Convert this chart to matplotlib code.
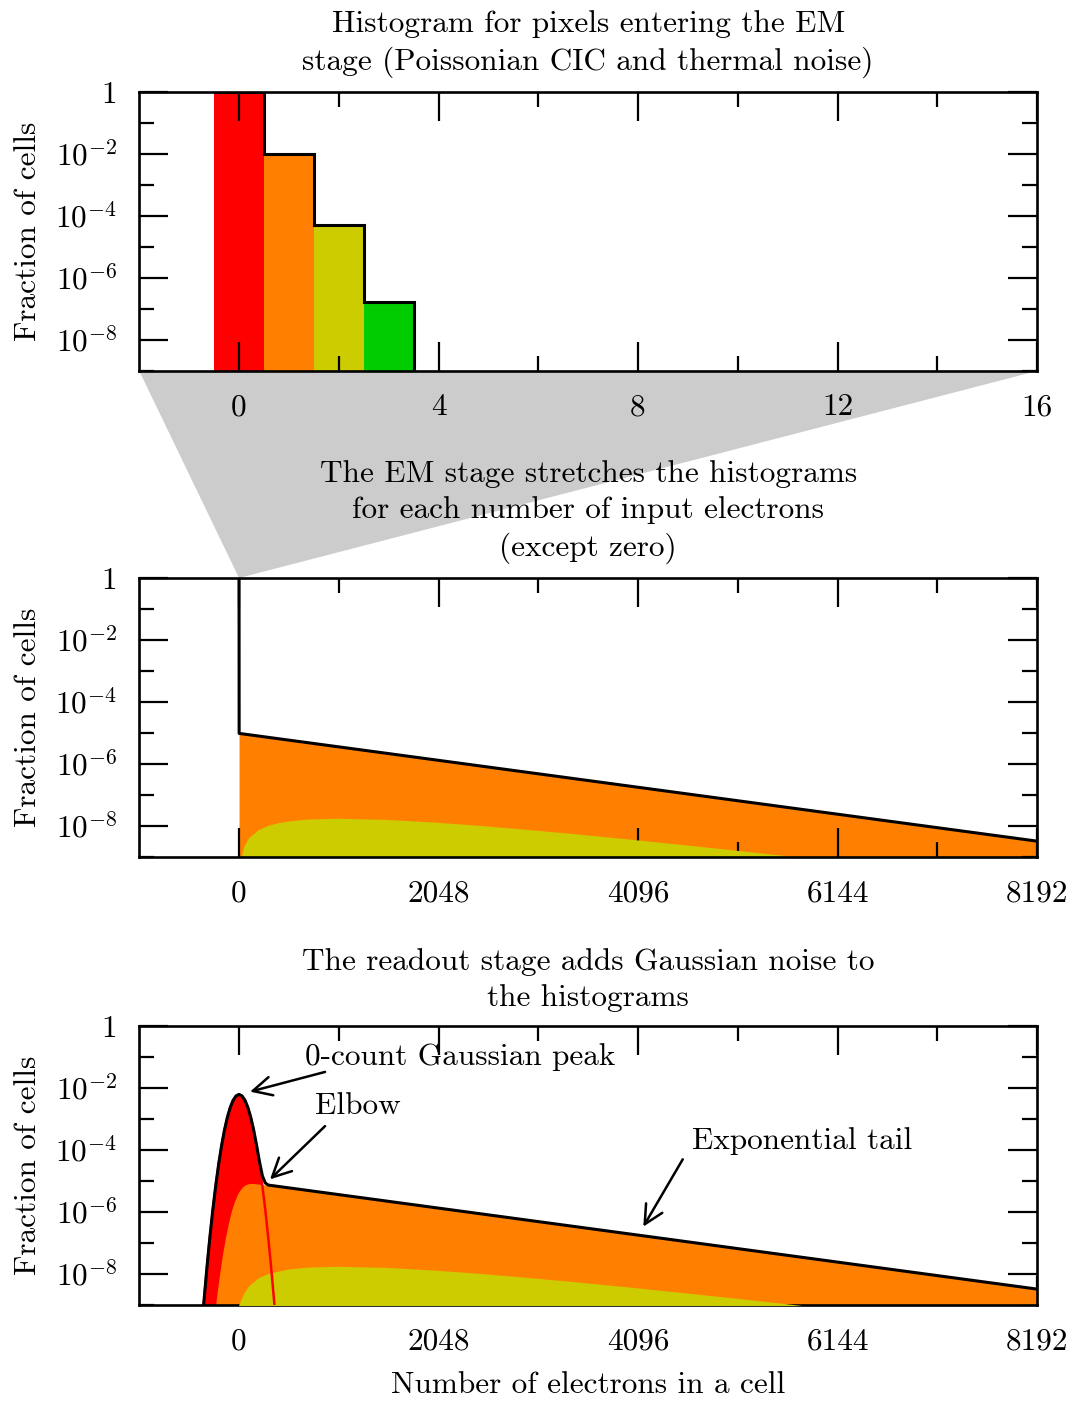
import matplotlib
matplotlib.use('Agg')
import matplotlib.pyplot as plt
from matplotlib.patches import Polygon
from matplotlib.ticker import NullFormatter

plt.rcParams['font.family'] = ['cmr10']
plt.rcParams['mathtext.fontset'] = 'cm'
plt.rcParams['font.size'] = 22.5
plt.rcParams['axes.linewidth'] = 1.9

RED = '#ff0000'
ORANGE = '#ff8000'
YELLOW = '#cccc00'
GREEN = '#00cc00'
GREY = '#cccccc'

# panel 1: electrons entering the EM stage
counts = [0, 1, 2, 3]
count_frac = [0.99, 9.9e-3, 4.95e-5, 1.65e-7]
count_colors = [RED, ORANGE, YELLOW, GREEN]
step_edges = [-0.5, 0.5, 1.5, 2.5, 3.5, 4.5]
step_vals = [0.99, 9.9e-3, 4.95e-5, 1.65e-7, 1e-14]

# panel 2: after the EM stage
em_total_x = [0, 1, 8192]
em_total_y = [0.99, 9.7e-6, 3.25e-9]
em_one_x = [0, 8192]
em_one_y = [9.7e-6, 3.25e-9]
em_two_x = [0, 10, 20, 50, 100, 200, 300, 400, 500, 700, 1000, 1500, 2000,
            2500, 3000, 3500, 4000, 4500, 5000, 5500, 6000, 6500]
em_two_y = [1e-12, 4.67e-10, 9.26e-10, 2.25e-9, 4.28e-9, 7.77e-9, 1.056e-8,
            1.277e-8, 1.448e-8, 1.668e-8, 1.778e-8, 1.636e-8, 1.339e-8,
            1.027e-8, 7.56e-9, 5.42e-9, 3.80e-9, 2.62e-9, 1.79e-9, 1.21e-9,
            8.08e-10, 5.37e-10]

# panel 3: after readout noise
zero_x = [-390, -360, -330, -300, -270, -240, -210, -180, -150, -120, -90, -60,
          -30, 0, 30, 60, 90, 120, 150, 180, 210, 240, 270, 300, 330, 360, 390]
zero_y = [9.4e-11, 1.35e-9, 1.56e-8, 1.47e-7, 1.11e-6, 6.79e-6, 3.36e-5,
          1.341e-4, 4.32e-4, 1.128e-3, 2.38e-3, 4.05e-3, 5.57e-3, 6.2e-3,
          5.57e-3, 4.05e-3, 2.38e-3, 1.128e-3, 4.32e-4, 1.341e-4, 3.36e-5,
          6.79e-6, 1.11e-6, 1.47e-7, 1.56e-8, 1.35e-9, 9.4e-11]
one_x = [-250, -230, -200, -170, -140, -110, -80, -50, -20, 0, 30, 60, 90,
         120, 150, 200, 300, 8192]
one_y = [5.7e-10, 1.93e-9, 9.9e-9, 4.22e-8, 1.48e-7, 4.28e-7, 1.03e-6,
         2.07e-6, 3.52e-6, 4.61e-6, 6.18e-6, 7.38e-6, 8.07e-6, 8.32e-6,
         8.30e-6, 7.98e-6, 7.24e-6, 3.25e-9]
two_x = [-20, 0, 50, 100, 200, 300, 500, 700, 1000, 1500, 2000, 2500, 3000,
         3500, 4000, 4500, 5000, 5500, 6000, 6500]
two_y = [7.06e-10, 1.08e-9, 2.44e-9, 4.19e-9, 7.62e-9, 1.045e-8, 1.44e-8,
         1.662e-8, 1.774e-8, 1.635e-8, 1.338e-8, 1.027e-8, 7.56e-9, 5.42e-9,
         3.80e-9, 2.62e-9, 1.79e-9, 1.21e-9, 8.08e-10, 5.37e-10]
total_x = [-390, -360, -330, -300, -270, -240, -210, -180, -150, -120, -90,
           -60, -30, 0, 30, 60, 90, 120, 150, 180, 210, 240, 270, 300, 8192]
total_y = [9.4e-11, 1.35e-9, 1.56e-8, 1.47e-7, 1.11e-6, 6.79e-6, 3.36e-5,
           1.341e-4, 4.32e-4, 1.128e-3, 2.38e-3, 4.05e-3, 5.57e-3, 6.2e-3,
           5.576e-3, 4.057e-3, 2.388e-3, 1.136e-3, 4.40e-4, 1.42e-4, 4.15e-5,
           1.45e-5, 8.6e-6, 7.39e-6, 3.26e-9]

ymajor = [1, 1e-2, 1e-4, 1e-6, 1e-8]
ylabels = ['1', '$10^{-2}$', '$10^{-4}$', '$10^{-6}$', '$10^{-8}$']
yminor = [1e-1, 1e-3, 1e-5, 1e-7, 1e-9]

small_xlim = (-2, 16)
small_major = [0, 4, 8, 12, 16]
small_minor = [2, 6, 10, 14]
big_xlim = (-1024, 8192)
big_major = [0, 2048, 4096, 6144, 8192]
big_minor = [1024, 3072, 5120, 7168]

fig = plt.figure(figsize=(10.73, 14.02), dpi=100)
left, width, height = 139.3 / 1073, 897.7 / 1073, 279 / 1402
ax1 = fig.add_axes([left, 1 - 371 / 1402, width, height])
ax2 = fig.add_axes([left, 1 - 857 / 1402, width, height])
ax3 = fig.add_axes([left, 1 - 1305 / 1402, width, height])


def style(ax, xlim, xmajor, xminor, title):
    ax.set_yscale('log')
    ax.set_ylim(1e-9, 1)
    ax.set_xlim(*xlim)
    ax.set_yticks(ymajor, ylabels)
    ax.set_yticks(yminor, minor=True)
    ax.yaxis.set_minor_formatter(NullFormatter())
    ax.set_xticks(xmajor, [str(v) for v in xmajor])
    ax.set_xticks(xminor, minor=True)
    ax.tick_params(which='both', direction='in', top=True, right=True,
                   width=1.6, pad=16)
    ax.tick_params(which='major', length=21)
    ax.tick_params(which='minor', length=10.5)
    ax.set_ylabel('Fraction of cells')
    ax.yaxis.set_label_coords(-0.108, 0.5)
    ax.text(0.5, 1.05, title, transform=ax.transAxes, ha='center',
            va='bottom', linespacing=1.36)


# panel 1
ax1.bar(counts, count_frac, width=1, bottom=1e-14, color=count_colors,
        linewidth=0, zorder=1)
ax1.stairs(step_vals, step_edges, baseline=None, color='black', lw=2.2,
           zorder=3)
style(ax1, small_xlim, small_major, small_minor,
      'Histogram for pixels entering the EM\n'
      'stage (Poissonian CIC and thermal noise)')

# panel 2
ax2.fill_between(em_one_x, 1e-14, em_one_y, color=ORANGE, lw=0, zorder=1)
ax2.fill_between(em_two_x, 1e-14, em_two_y, color=YELLOW, lw=0, zorder=2)
ax2.plot(em_total_x, em_total_y, color='black', lw=2.2, zorder=3)
style(ax2, big_xlim, big_major, big_minor,
      'The EM stage stretches the histograms\n'
      'for each number of input electrons\n(except zero)')

# panel 3
ax3.fill_between(zero_x, 1e-14, zero_y, color=RED, lw=0, zorder=1)
ax3.fill_between(one_x, 1e-14, one_y, color=ORANGE, lw=0, zorder=2)
ax3.fill_between(two_x, 1e-14, two_y, color=YELLOW, lw=0, zorder=3)
ax3.plot(zero_x, zero_y, color=RED, lw=1.8, zorder=4)
ax3.plot(total_x, total_y, color='black', lw=2.2, zorder=5)
style(ax3, big_xlim, big_major, big_minor,
      'The readout stage adds Gaussian noise to\nthe histograms')
ax3.set_xlabel('Number of electrons in a cell')
ax3.xaxis.set_label_coords(0.5, -0.238)

arrow = dict(arrowstyle='->,head_length=0.6,head_width=0.3', color='black',
             lw=1.8, shrinkA=0, shrinkB=0)
ax3.text(678, 0.1, '0-count Gaussian peak', ha='left', va='center', zorder=6)
ax3.annotate('', xy=(113, 7.6e-3), xytext=(883, 0.033), arrowprops=arrow)
ax3.text(780, 2.6e-3, 'Elbow', ha='left', va='center', zorder=6)
ax3.annotate('', xy=(318, 1.13e-5), xytext=(883, 5.9e-4), arrowprops=arrow)
ax3.text(4647, 2.0e-4, 'Exponential tail', ha='left', va='center', zorder=6)
ax3.annotate('', xy=(4150, 3.36e-7), xytext=(4555, 5.0e-5), arrowprops=arrow)

# grey zoom wedge from panel 1 down to x=0 of panel 2
p1 = ax1.get_position()
p2 = ax2.get_position()
apex = p2.x0 + p2.width * (0 - big_xlim[0]) / (big_xlim[1] - big_xlim[0])
wedge = Polygon([(p1.x0, p1.y0), (p1.x1, p1.y0), (apex, p2.y1)], closed=True,
                transform=fig.transFigure, facecolor=GREY, edgecolor='none',
                zorder=-1)
fig.add_artist(wedge)

fig.savefig('out.png', dpi=100)
